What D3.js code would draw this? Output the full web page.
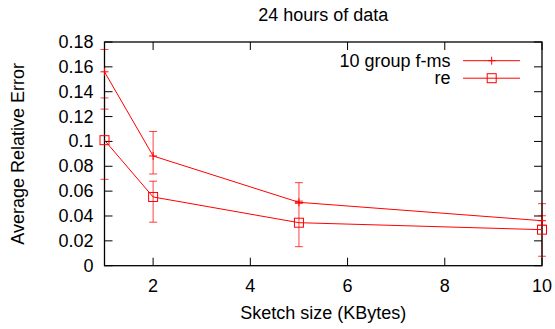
<!DOCTYPE html>
<html>
<head>
<meta charset="utf-8">
<script src="https://cdn.jsdelivr.net/npm/d3@7"></script>
<style>
  html, body { margin: 0; padding: 0; background: #fff; }
  text { font-family: "Liberation Sans", Arial, sans-serif; fill: #000; }
</style>
</head>
<body>
<svg id="chart" width="555" height="329"></svg>
<script>
// Sketch sizes (KBytes) and average relative error with error-bar bounds
const sizes = [1, 2, 5, 10];
const fmsMean = [0.156, 0.0883, 0.051, 0.0362];
const fmsLow  = [0.135, 0.0738, 0.050, 0.0325];
const fmsHigh = [0.174, 0.108, 0.0668, 0.0402];
const reMean  = [0.101, 0.0553, 0.0346, 0.029];
const reLow   = [0.0695, 0.035, 0.0153, 0.0076];
const reHigh  = [0.126, 0.068, 0.052, 0.0499];
const xTicks = [2, 4, 6, 8, 10];
const yTicks = [0, 0.02, 0.04, 0.06, 0.08, 0.1, 0.12, 0.14, 0.16, 0.18];
const seriesNames = ["10 group f-ms", "re"];

const svg = d3.select("#chart");
const m = { left: 104.5, right: 542, top: 42, bottom: 265.7 };
const x = d3.scaleLinear().domain([1, 10]).range([m.left, m.right]);
const y = d3.scaleLinear().domain([0, 0.18]).range([m.bottom, m.top]);
const red = "#ff0000";
const tickLen = 8;
const fs = 18;

// tick marks on all four sides (mirrored)
const g = svg.append("g");
yTicks.forEach(v => {
  g.append("line").attr("x1", m.left).attr("x2", m.left + tickLen)
    .attr("y1", y(v)).attr("y2", y(v)).attr("stroke", "#000");
  g.append("line").attr("x1", m.right).attr("x2", m.right - tickLen)
    .attr("y1", y(v)).attr("y2", y(v)).attr("stroke", "#000");
  g.append("text").attr("x", m.left - 11).attr("y", y(v))
    .attr("text-anchor", "end").attr("dominant-baseline", "central")
    .attr("font-size", fs).text(d3.format("")(v));
});
xTicks.forEach(v => {
  g.append("line").attr("x1", x(v)).attr("x2", x(v))
    .attr("y1", m.bottom).attr("y2", m.bottom - tickLen).attr("stroke", "#000");
  g.append("line").attr("x1", x(v)).attr("x2", x(v))
    .attr("y1", m.top).attr("y2", m.top + tickLen).attr("stroke", "#000");
  g.append("text").attr("x", x(v)).attr("y", m.bottom + 20)
    .attr("text-anchor", "middle").attr("dominant-baseline", "central")
    .attr("font-size", fs).text(v);
});

// titles
svg.append("text").attr("x", (m.left + m.right) / 2).attr("y", 15)
  .attr("text-anchor", "middle").attr("dominant-baseline", "central")
  .attr("font-size", fs).text("24 hours of data");
svg.append("text").attr("x", (m.left + m.right) / 2).attr("y", 313)
  .attr("text-anchor", "middle").attr("dominant-baseline", "central")
  .attr("font-size", fs).text("Sketch size (KBytes)");
svg.append("text")
  .attr("transform", `translate(18,${(m.top + m.bottom) / 2}) rotate(-90)`)
  .attr("text-anchor", "middle").attr("dominant-baseline", "central")
  .attr("font-size", fs).text("Average Relative Error");

// error bars
const cap = 4;
function errorBars(mean, low, high) {
  const eg = svg.append("g").attr("stroke", red).attr("stroke-opacity", 0.75);
  sizes.forEach((s, i) => {
    eg.append("line").attr("x1", x(s)).attr("x2", x(s))
      .attr("y1", y(low[i])).attr("y2", y(high[i]));
    [low[i], high[i]].forEach(v => {
      eg.append("line").attr("x1", x(s) - cap).attr("x2", x(s) + cap)
        .attr("y1", y(v)).attr("y2", y(v));
    });
  });
}
errorBars(fmsMean, fmsLow, fmsHigh);
errorBars(reMean, reLow, reHigh);

// frame drawn over the error bars that sit on the border
svg.append("rect").attr("x", m.left).attr("y", m.top)
  .attr("width", m.right - m.left).attr("height", m.bottom - m.top)
  .attr("fill", "none").attr("stroke", "#000").attr("stroke-width", 1.3);

// lines
const line = d3.line().x((d, i) => x(sizes[i])).y(d => y(d));
[fmsMean, reMean].forEach(vals => {
  svg.append("path").attr("d", line(vals)).attr("fill", "none")
    .attr("stroke", red).attr("stroke-width", 1);
});

// markers
function plus(px, py) {
  svg.append("path").attr("d", `M${px - 4},${py}H${px + 4}M${px},${py - 4}V${py + 4}`)
    .attr("stroke", red).attr("fill", "none");
}
function square(px, py) {
  svg.append("rect").attr("x", px - 4.5).attr("y", py - 4.5)
    .attr("width", 9).attr("height", 9)
    .attr("fill", "none").attr("stroke", red);
}
sizes.forEach((s, i) => {
  plus(x(s), y(fmsMean[i]));
  square(x(s), y(reMean[i]));
});

// legend
const legY = [60.7, 78.2];
seriesNames.forEach((name, i) => {
  svg.append("text").attr("x", 450.5).attr("y", legY[i])
    .attr("text-anchor", "end").attr("dominant-baseline", "central")
    .attr("font-size", fs).text(name);
  svg.append("line").attr("x1", 463).attr("x2", 520)
    .attr("y1", legY[i]).attr("y2", legY[i]).attr("stroke", red);
  if (i === 0) plus(491.7, legY[i]); else square(491.7, legY[i]);
});
</script>
</body>
</html>
